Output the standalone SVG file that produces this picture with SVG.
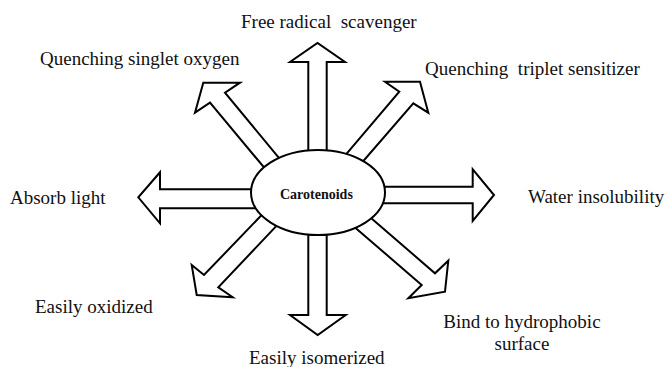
<svg xmlns="http://www.w3.org/2000/svg" width="666" height="367" viewBox="0 0 666 367">
<style>
.arrow{fill:#fff;stroke:#000;stroke-width:2;stroke-linejoin:miter}
</style>
<rect width="666" height="367" fill="#fff"/>
<g id="connectors">
<polygon class="arrow" points="308.3,160 308.3,62 290,62 317.5,43 345,62 326.7,62 326.7,160"/>
<polygon class="arrow" points="308.3,225 308.3,315 290,315 317.7,335 345.7,315 326.7,315 326.7,225"/>
<polygon class="arrow" points="262,189.3 160,189.3 160,172.3 138.3,197.3 160,223.3 160,208.3 262,208.3"/>
<polygon class="arrow" points="375,186.7 472.7,186.7 472.7,169.3 494,195 472.7,221 472.7,203.3 375,203.3"/>
<polygon class="arrow" points="288,168.8 225,92.7 240,82.7 203.3,82.7 195,112.7 210,102.7 273,178.2"/>
<polygon class="arrow" points="338.6,163.1 399.3,91.7 385,81.7 420,81.7 428.3,112.7 413.3,103.3 354.3,171.4"/>
<polygon class="arrow" points="270.4,205.9 204,275 191.7,265 196.7,295 232.7,297.3 218.3,287.3 285.4,216.5"/>
<polygon class="arrow" points="362,210.2 435,273.3 448.3,260.7 445,291.7 408.3,298.3 421.7,285 348.6,221.9"/>
</g>
<g id="labels" font-family="Liberation Serif, Times New Roman, serif" font-size="19" fill="#111">
<g id="carotenoids">
<ellipse cx="318" cy="192.5" rx="67" ry="42.5" fill="#fff" stroke="#000" stroke-width="2"/>
<text x="280" y="199" font-size="14" font-weight="bold">Carotenoids</text>
</g>
<g id="free-radical"><text x="241" y="28.3" xml:space="preserve">Free radical  scavenger</text></g>
<g id="singlet-oxygen"><text x="40" y="65">Quenching singlet oxygen</text></g>
<g id="triplet"><text x="425" y="74.5" xml:space="preserve">Quenching  triplet sensitizer</text></g>
<g id="absorb"><text x="10" y="204">Absorb light</text></g>
<g id="water"><text x="528" y="203.3">Water insolubility</text></g>
<g id="oxidized"><text x="35" y="312.7">Easily oxidized</text></g>
<g id="isomerized"><text x="249" y="363.5">Easily isomerized</text></g>
<g id="hydrophobic">
<text x="443.3" y="327.7">Bind to hydrophobic</text>
<text x="494.5" y="349.5">surface</text>
</g>
</g>
</svg>
